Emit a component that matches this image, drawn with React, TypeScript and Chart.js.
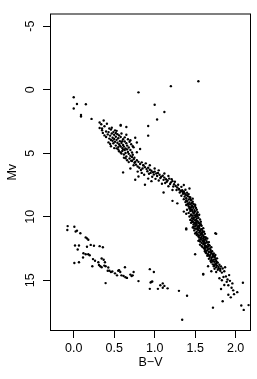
import React, { useEffect, useRef } from "react";
import { Chart, registerables } from "chart.js";

Chart.register(...registerables);

// Axis ticks and titles
const xTickValues = [0, 0.5, 1, 1.5, 2];
const xTickLabels = ["0.0", "0.5", "1.0", "1.5", "2.0"];
const yTickValues = [-5, 0, 5, 10, 15];
const yTickLabels = ["-5", "0", "5", "10", "15"];
const xTitle = "B\u2212V";
const yTitle = "Mv";

// Stars as [B-V, Mv]
const brightStars: [number, number][] = [
  [0.0, 0.59], [0.04, 1.13], [0.15, 1.15], [0.0, 1.48], [0.09, 1.99], [0.09, 2.12], [0.22, 2.3],
];

const giants: [number, number][] = [
  [1.54, -0.66], [1.2, -0.28], [0.8, 0.21], [1.0, 1.18], [1.12, 1.76], [1.03, 2.35], [0.92, 2.86], [0.92, 3.62],
];

const upperMainSequence: [number, number][] = [
  [0.32, 2.58], [0.37, 2.43], [0.41, 2.68], [0.32, 3.01], [0.35, 3.19], [0.4, 3.29], [0.43, 3.34], [0.46, 3.14],
  [0.49, 3.34], [0.53, 3.24], [0.58, 2.83], [0.65, 2.94], [0.58, 2.78], [0.34, 2.72], [0.38, 2.88], [0.44, 3.05],
  [0.36, 3.4], [0.42, 3.52], [0.45, 3.62], [0.47, 3.45], [0.5, 3.55], [0.52, 3.7], [0.48, 3.78], [0.44, 3.85],
  [0.46, 3.96], [0.5, 3.88], [0.53, 3.95], [0.55, 3.82], [0.57, 4.05], [0.51, 4.1], [0.49, 4.22], [0.54, 4.18],
  [0.56, 4.3], [0.59, 4.2], [0.61, 4.35], [0.58, 4.48], [0.55, 4.52], [0.6, 4.6], [0.62, 4.48], [0.64, 4.62],
  [0.63, 4.75], [0.6, 4.82], [0.66, 4.7], [0.67, 4.9], [0.64, 4.98], [0.62, 5.1], [0.68, 5.05], [0.7, 5.2],
  [0.65, 5.25], [0.72, 5.3], [0.69, 5.42], [0.74, 5.48], [0.71, 5.6], [0.76, 3.78], [0.78, 4.16], [0.74, 4.54],
  [0.82, 4.67], [0.78, 4.93], [0.52, 3.4], [0.56, 3.6], [0.58, 3.72], [0.61, 3.9], [0.63, 4.08], [0.65, 4.22],
  [0.57, 4.4], [0.53, 4.62], [0.66, 4.4], [0.68, 4.55], [0.7, 4.75], [0.72, 4.95], [0.48, 4.02], [0.43, 4.15],
  [0.45, 4.28], [0.4, 3.72], [0.38, 3.6], [0.46, 4.45], [0.62, 5.35], [0.59, 5.02], [0.56, 4.85], [0.66, 5.55],
  [0.73, 5.12], [0.75, 5.35], [0.67, 3.9], [0.69, 4.1], [0.71, 4.3], [0.6, 4.05], [0.54, 3.5], [0.51, 3.2],
  [0.47, 3.0], [0.63, 3.75], [0.65, 3.55], [0.59, 3.45], [0.7, 3.98], [0.73, 4.45], [0.52, 4.4], [0.55, 4.7],
  [0.61, 4.7], [0.64, 5.4], [0.68, 5.7], [0.35, 3.05], [0.58, 4.95], [0.5, 4.6],
];

const middleMainSequence: [number, number][] = [
  [0.72, 5.62], [0.75, 5.75], [0.78, 5.55], [0.8, 5.68], [0.77, 5.9], [0.82, 5.85], [0.84, 5.72], [0.79, 6.05],
  [0.86, 5.95], [0.88, 6.1], [0.85, 6.2], [0.83, 6.32], [0.9, 6.25], [0.92, 6.15], [0.94, 6.3], [0.91, 6.42],
  [0.96, 6.38], [0.98, 6.5], [0.95, 6.55], [1.0, 6.45], [1.02, 6.6], [0.99, 6.68], [1.04, 6.55], [1.06, 6.7],
  [1.03, 6.8], [1.08, 6.85], [1.1, 6.78], [1.07, 6.95], [1.12, 6.92], [1.14, 7.05], [1.11, 7.1], [1.16, 7.15],
  [1.18, 7.0], [1.15, 7.25], [1.2, 7.3], [1.22, 7.2], [1.19, 7.42], [1.24, 7.45], [1.26, 7.58], [1.23, 7.62],
  [1.28, 7.7], [1.3, 7.82], [1.27, 7.9], [1.32, 7.95], [1.17, 7.6], [1.13, 7.35], [1.22, 7.9], [1.11, 8.1],
  [1.22, 8.75], [0.88, 7.48], [0.76, 7.09], [0.8, 6.84], [0.61, 6.51], [0.76, 5.69], [0.86, 5.95], [0.84, 6.55],
  [0.87, 6.7], [0.93, 6.62], [0.97, 6.85], [1.01, 7.02], [1.05, 7.15], [1.09, 7.4], [0.89, 5.8], [0.81, 6.15],
  [0.94, 5.95], [1.0, 6.2], [1.05, 6.35], [1.12, 6.6], [1.17, 6.8], [1.21, 7.05], [1.25, 7.25], [1.29, 7.48],
  [1.33, 7.65], [0.74, 5.95], [0.7, 6.2], [0.79, 6.45], [0.92, 7.0], [0.96, 7.2], [1.36, 7.5], [1.43, 7.78],
  [1.35, 8.05],
];

const lowerMainSequence: [number, number][] = [
  [1.3, 7.85], [1.34, 7.92], [1.38, 7.88], [1.36, 8.02], [1.31, 8.1], [1.4, 8.12], [1.35, 8.2], [1.38, 8.28],
  [1.42, 8.22], [1.33, 8.35], [1.37, 8.42], [1.41, 8.38], [1.44, 8.48], [1.39, 8.55], [1.36, 8.62], [1.42, 8.65],
  [1.45, 8.7], [1.4, 8.78], [1.38, 8.85], [1.43, 8.88], [1.47, 8.82], [1.41, 8.95], [1.44, 9.02], [1.48, 9.0],
  [1.39, 9.08], [1.46, 9.12], [1.42, 9.18], [1.5, 9.15], [1.45, 9.25], [1.48, 9.3], [1.43, 9.35], [1.51, 9.32],
  [1.46, 9.42], [1.4, 9.45], [1.49, 9.48], [1.44, 9.55], [1.5, 9.58], [1.47, 9.62], [1.53, 9.65], [1.42, 9.7],
  [1.48, 9.75], [1.52, 9.78], [1.45, 9.82], [1.5, 9.88], [1.55, 9.85], [1.47, 9.92], [1.43, 9.98], [1.51, 10.0],
  [1.49, 10.05], [1.54, 10.08], [1.46, 10.12], [1.52, 10.15], [1.48, 10.2], [1.56, 10.22], [1.44, 10.25], [1.5, 10.3],
  [1.53, 10.35], [1.47, 10.38], [1.57, 10.4], [1.51, 10.45], [1.49, 10.5], [1.45, 10.48], [1.55, 10.52], [1.52, 10.58],
  [1.48, 10.62], [1.56, 10.65], [1.54, 10.7], [1.5, 10.75], [1.58, 10.72], [1.53, 10.8], [1.47, 10.85], [1.55, 10.88],
  [1.6, 10.9], [1.51, 10.95], [1.57, 11.0], [1.54, 11.05], [1.49, 11.08], [1.59, 11.1], [1.56, 11.15], [1.52, 11.2],
  [1.61, 11.18], [1.55, 11.25], [1.58, 11.3], [1.5, 11.32], [1.53, 11.38], [1.62, 11.35], [1.57, 11.42], [1.55, 11.48],
  [1.6, 11.5], [1.52, 11.45], [1.58, 11.58], [1.63, 11.62], [1.55, 11.65], [1.6, 11.7], [1.65, 11.72], [1.57, 11.78],
  [1.62, 11.82], [1.59, 11.88], [1.54, 11.9], [1.64, 11.92], [1.61, 11.98], [1.67, 12.0], [1.58, 12.05], [1.63, 12.08],
  [1.6, 12.15], [1.66, 12.18], [1.56, 12.2], [1.62, 12.25], [1.68, 12.28], [1.64, 12.32], [1.59, 12.38], [1.65, 12.42],
  [1.7, 12.4], [1.61, 12.48], [1.66, 12.55], [1.62, 12.6], [1.69, 12.62], [1.64, 12.68], [1.71, 12.72], [1.67, 12.78],
  [1.63, 12.82], [1.7, 12.85], [1.73, 12.9], [1.66, 12.95], [1.69, 13.0], [1.75, 13.02], [1.65, 13.08], [1.72, 13.1],
  [1.68, 13.15], [1.74, 13.2], [1.7, 13.25], [1.77, 13.28], [1.67, 13.32], [1.73, 13.38], [1.71, 13.45], [1.76, 13.48],
  [1.74, 13.55], [1.7, 13.6], [1.78, 13.62], [1.75, 13.7], [1.72, 13.75], [1.8, 13.78], [1.77, 13.85], [1.73, 13.9],
  [1.82, 13.92], [1.76, 13.98], [1.79, 14.05], [1.74, 14.1], [1.84, 14.08], [1.78, 14.18], [1.81, 14.25], [1.86, 14.3],
  [1.76, 14.35], [1.83, 14.4],
];

const lowerMainSequenceExtra: [number, number][] = [
  [1.44, 8.6], [1.39, 8.72], [1.46, 8.92], [1.41, 9.05], [1.47, 9.2], [1.44, 9.4], [1.52, 9.45], [1.46, 9.52],
  [1.49, 9.68], [1.45, 9.9], [1.53, 9.95], [1.48, 10.1], [1.51, 10.25], [1.46, 10.32], [1.54, 10.45], [1.5, 10.55],
  [1.57, 10.6], [1.51, 10.68], [1.55, 10.78], [1.49, 10.92], [1.58, 10.98], [1.53, 11.02], [1.56, 11.12], [1.51, 11.28],
  [1.59, 11.4], [1.54, 11.55], [1.61, 11.6], [1.57, 11.68], [1.63, 11.75], [1.6, 11.85], [1.56, 11.95], [1.65, 12.02],
  [1.61, 12.1], [1.58, 12.3], [1.66, 12.35], [1.63, 12.45], [1.68, 12.5], [1.65, 12.65], [1.69, 12.8], [1.72, 12.95],
  [1.67, 13.05], [1.71, 13.18], [1.75, 13.35], [1.72, 13.52], [1.77, 13.58], [1.74, 13.82], [1.79, 13.95], [1.81, 14.12],
  [1.43, 8.45], [1.47, 8.58], [1.4, 8.3], [1.37, 8.15], [1.33, 8.0], [1.5, 9.05], [1.43, 9.28], [1.52, 10.4],
  [1.48, 10.78], [1.59, 11.22], [1.55, 11.85], [1.62, 12.38], [1.64, 12.88], [1.7, 13.38], [1.76, 13.72], [1.52, 9.85],
  [1.47, 10.42], [1.53, 10.88], [1.57, 11.32], [1.6, 11.95], [1.67, 12.22], [1.62, 12.72], [1.74, 13.12], [1.69, 13.48],
];

const faintTail: [number, number][] = [
  [1.39, 10.92], [1.75, 11.3], [1.5, 12.96], [1.6, 14.5], [1.87, 13.98], [1.39, 11.0], [1.76, 11.35], [1.39, 9.77],
  [1.28, 8.95], [1.36, 9.6], [1.66, 13.9], [1.7, 14.3], [1.88, 14.7], [1.9, 14.95], [1.85, 14.75], [1.93, 15.05],
  [1.96, 15.25], [1.91, 15.4], [1.86, 15.38], [1.89, 15.13], [1.82, 15.69], [1.84, 16.66], [1.91, 16.15], [1.94, 16.35],
  [1.98, 16.1], [2.02, 15.94], [2.09, 15.2], [2.07, 16.99], [2.1, 17.34], [2.16, 16.96], [1.72, 17.16], [1.95, 15.6],
  [1.97, 15.8], [1.8, 14.85], [1.83, 15.0], [1.92, 14.6], [1.6, 14.56],
];

const whiteDwarfs: [number, number][] = [
  [-0.075, 10.74], [-0.079, 11.05], [0.008, 10.79], [0.024, 11.17], [0.04, 11.1], [0.082, 11.3], [0.148, 11.63],
  [0.164, 11.71], [0.18, 11.81], [0.016, 12.27], [0.065, 12.27], [0.049, 12.58], [0.164, 12.37], [0.21, 12.22],
  [0.25, 12.29], [0.32, 12.32], [0.36, 12.4], [0.12, 12.88], [0.148, 12.96], [0.18, 12.96], [0.197, 13.03],
  [0.115, 13.21], [0.238, 13.34], [0.263, 13.47], [0.304, 13.59], [0.345, 13.29], [0.37, 13.39], [0.386, 13.59],
  [0.312, 13.8], [0.329, 13.9], [0.345, 13.98], [0.23, 13.9], [0.008, 13.65], [0.065, 13.59], [0.378, 13.85],
  [0.394, 13.9], [0.427, 14.0], [0.42, 14.26], [0.44, 14.26], [0.46, 14.36], [0.477, 14.31], [0.51, 14.46],
  [0.535, 14.62], [0.55, 14.26], [0.575, 14.36], [0.59, 14.62], [0.616, 14.67], [0.64, 14.77], [0.658, 14.82],
  [0.633, 13.98], [0.56, 14.21], [0.7, 14.56], [0.715, 14.67], [0.74, 14.36], [0.8, 15.07], [0.394, 15.23],
  [0.94, 14.13], [0.99, 14.36], [0.96, 15.13], [0.94, 15.68], [1.04, 15.68], [1.1, 15.25], [1.1, 15.59],
  [1.16, 15.64], [1.3, 15.84], [0.95, 15.18], [0.97, 15.1], [1.07, 15.4], [1.12, 15.45], [1.4, 16.22],
  [1.34, 18.11], [0.728, 14.62],
];

const starGroups = [
  brightStars, giants, upperMainSequence, middleMainSequence,
  lowerMainSequence, lowerMainSequenceExtra, faintTail, whiteDwarfs,
];

const FONT = "'Liberation Sans', Arial, Helvetica, sans-serif";

export default function App() {
  const canvasRef = useRef<HTMLCanvasElement>(null);

  useEffect(() => {
    const canvas = canvasRef.current;
    if (!canvas) return;

    const boxPlugin = {
      id: "plotBox",
      afterDatasetsDraw(chart: any) {
        const { ctx, chartArea: a } = chart;
        ctx.save();
        ctx.strokeStyle = "#000";
        ctx.lineWidth = 1;
        ctx.strokeRect(a.left + 0.5, a.top + 0.5, a.right - a.left - 1, a.bottom - a.top - 1);
        ctx.restore();
      },
    };

    const chart = new Chart(canvas, {
      type: "scatter",
      data: {
        datasets: starGroups.map((g) => ({
          data: g.map(([x, y]) => ({ x, y })),
          backgroundColor: "#000",
          borderWidth: 0,
          pointRadius: 1.2,
          pointHoverRadius: 1.2,
        })),
      },
      options: {
        responsive: false,
        animation: false,
        devicePixelRatio: 1,
        events: [],
        layout: { padding: { left: 0, top: 4, right: 6, bottom: 0 } },
        plugins: { legend: { display: false }, tooltip: { enabled: false } },
        scales: {
          x: {
            type: "linear",
            min: -0.293,
            max: 2.19,
            afterBuildTicks: (s: any) => {
              s.ticks = xTickValues.map((v) => ({ value: v }));
            },
            afterFit: (s: any) => {
              s.height = 48;
            },
            grid: { drawOnChartArea: false, drawTicks: true, tickLength: 7, color: "#000", lineWidth: 1 },
            border: { display: false },
            ticks: {
              autoSkip: false,
              maxRotation: 0,
              padding: 3.5,
              color: "#000",
              font: { family: FONT, size: 12.5 },
              callback: (_v: any, i: number) => xTickLabels[i],
            },
            title: {
              display: true,
              text: xTitle,
              color: "#000",
              font: { family: FONT, size: 12.5 },
              padding: { top: 0, bottom: 8.5 },
            },
          },
          y: {
            type: "linear",
            reverse: true,
            min: -6,
            max: 19,
            afterBuildTicks: (s: any) => {
              s.ticks = yTickValues.map((v) => ({ value: v }));
            },
            afterFit: (s: any) => {
              s.width = 50;
            },
            grid: { drawOnChartArea: false, drawTicks: true, tickLength: 7, color: "#000", lineWidth: 1 },
            border: { display: false },
            ticks: {
              autoSkip: false,
              minRotation: 90,
              maxRotation: 90,
              crossAlign: "center",
              padding: 6,
              color: "#000",
              font: { family: FONT, size: 12.5 },
              callback: (_v: any, i: number) => yTickLabels[i],
            },
            title: {
              display: true,
              text: yTitle,
              color: "#000",
              font: { family: FONT, size: 12.5 },
              padding: { top: 5, bottom: 0 },
            },
          },
        },
      },
      plugins: [boxPlugin],
    });

    return () => chart.destroy();
  }, []);

  return (
    <div style={{ position: "fixed", left: 0, top: 0, width: 257, height: 379, background: "#fff" }}>
      <canvas ref={canvasRef} width={257} height={379} style={{ display: "block" }} />
    </div>
  );
}
